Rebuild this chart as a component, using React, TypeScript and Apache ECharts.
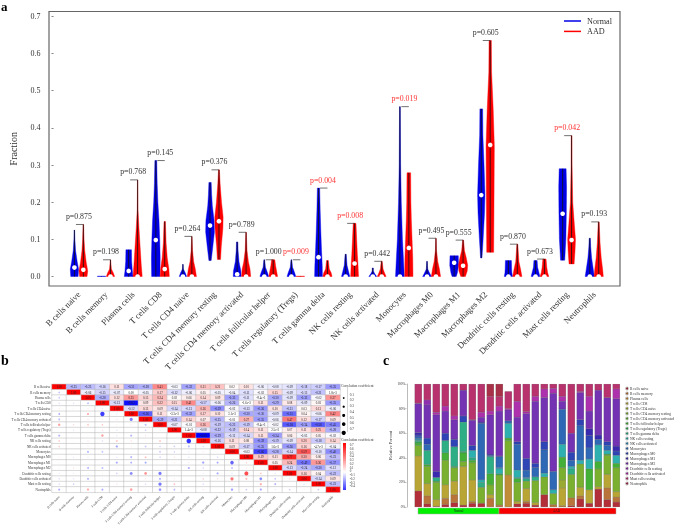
import React, { useEffect, useRef } from "react";
import * as echarts from "echarts";

const cellTypes = ["B cells naive","B cells memory","Plasma cells","T cells CD8","T cells CD4 naive","T cells CD4 memory resting","T cells CD4 memory activated","T cells follicular helper","T cells regulatory (Tregs)","T cells gamma delta","NK cells resting","NK cells activated","Monocytes","Macrophages M0","Macrophages M1","Macrophages M2","Dendritic cells resting","Dendritic cells activated","Mast cells resting","Neutrophils"];
const pValues = [0.875,0.198,0.768,0.145,0.264,0.376,0.789,1.0,0.009,0.004,0.008,0.442,0.019,0.495,0.555,0.605,0.87,0.673,0.042,0.193];
const yTicks = [0,0.1,0.2,0.3,0.4,0.5,0.6,0.7];

// violin outlines: [fraction, relative density]
const normalProfiles: number[][][] = [
  [[0,.8],[.02,.9],[.04,.6],[.07,.25],[.1,.1],[.125,.05]],
  [[0,.9],[.001,.9]],
  [[0,.95],[.015,.8],[.04,.65],[.072,.6]],
  [[0,.9],[.05,.95],[.1,.85],[.15,.7],[.2,.45],[.25,.3],[.312,.2]],
  [[0,.8],[.01,.5],[.02,.1],[.033,.03]],
  [[.043,.25],[.08,.6],[.12,.95],[.15,.9],[.19,.5],[.22,.35],[.253,.25]],
  [[0,.85],[.015,.8],[.04,.4],[.07,.2],[.093,.15]],
  [[0,.95],[.01,.7],[.025,.25],[.045,.08]],
  [[0,.95],[.01,.7],[.025,.25],[.045,.08]],
  [[0,.85],[.03,.8],[.07,.65],[.12,.5],[.18,.35],[.238,.25]],
  [[0,.9],[.015,.6],[.03,.3],[.06,.12]],
  [[0,.85],[.008,.4],[.015,.12],[.023,.12]],
  [[0,.95],[.04,.8],[.1,.55],[.2,.3],[.3,.15],[.457,.08]],
  [[0,.95],[.008,.6],[.02,.15],[.041,.05]],
  [[0,.45],[.01,.7],[.03,.95],[.056,.9]],
  [[.05,.15],[.1,.4],[.17,.7],[.22,.8],[.3,.6],[.38,.35],[.451,.3]],
  [[0,.9],[.01,.75],[.02,.7],[.043,.65]],
  [[0,.95],[.01,.75],[.025,.45],[.043,.35]],
  [[.044,.45],[.1,.7],[.17,.8],[.24,.85],[.29,.75]],
  [[0,1],[.02,.75],[.05,.4],[.08,.2],[.103,.12]],
];
const aadProfiles: number[][][] = [
  [[0,.8],[.015,.95],[.04,.6],[.07,.3],[.1,.15],[.14,.05]],
  [[0,.9],[.01,.6],[.02,.2],[.045,.03]],
  [[0,1],[.03,.8],[.08,.55],[.13,.3],[.18,.08],[.26,.03]],
  [[0,1],[.02,.9],[.05,.55],[.09,.3],[.148,.15]],
  [[0,1],[.02,.75],[.04,.4],[.07,.15],[.108,.03]],
  [[.046,.35],[.08,.5],[.13,.85],[.16,.9],[.2,.55],[.25,.25],[.287,.1]],
  [[0,1],[.02,.85],[.04,.5],[.07,.2],[.119,.05]],
  [[0,.95],[.01,.8],[.03,.5],[.045,.35]],
  [[0,.9],[.001,.9]],
  [[0,1],[.01,.8],[.02,.4],[.043,.2]],
  [[0,.85],[.03,.75],[.06,.6],[.1,.45],[.143,.3]],
  [[0,.95],[.01,.6],[.02,.3],[.041,.1]],
  [[0,.9],[.05,.85],[.1,.7],[.15,.55],[.2,.45],[.279,.4]],
  [[0,1],[.02,.75],[.04,.4],[.07,.12],[.103,.04]],
  [[0,.5],[.015,.9],[.03,1],[.05,.7],[.07,.3],[.098,.1]],
  [[.065,.75],[.15,.8],[.25,.85],[.35,.9],[.45,.65],[.55,.3],[.635,.25]],
  [[0,1],[.02,.7],[.04,.35],[.087,.1]],
  [[0,.95],[.01,.7],[.025,.5],[.047,.35]],
  [[.034,.55],[.07,.75],[.1,.85],[.14,.6],[.2,.25],[.3,.1],[.379,.08]],
  [[0,1],[.02,.85],[.05,.55],[.09,.3],[.147,.1]],
];
const normalMedians = [.024,null,.015,.098,0,.137,.006,0,0,.052,0,0,0,0,.037,.219,0,0,.169,0];
const aadMedians = [.018,0,0,.02,0,.149,0,0,null,0,.035,0,.077,0,.029,.354,0,0,.098,0];

// correlation matrix, upper triangle row by row
const corrRows: number[][] = [
  [1,-.25,-.23,-.16,.11,-.31,-.28,.41,-.03,-.32,.21,.21,.02,.10,-.06,-.08,-.09,-.18,-.17,-.35],
  [1,-.06,-.15,-.07,0,-.05,.17,-.12,-.06,.05,-.05,-.04,-.11,-.02,.15,-.09,-.13,-.21,.0018],
  [1,-.28,.12,.35,.15,.24,.02,.06,.14,.09,-.33,-.11,-.0094,-.30,-.09,-.33,-.02,.37],
  [1,-.13,-.83,.09,.22,.15,.41,-.17,-.06,-.26,-.0016,.11,-.29,.08,-.09,.03,-.35],
  [1,-.12,.13,.09,-.14,-.13,.26,-.39,-.019,-.13,-.36,.10,-.21,.03,.13,-.06],
  [1,-.56,.11,-.0033,-.32,.17,.10,.0031,-.30,-.30,-.09,-.51,.04,-.06,.42],
  [1,-.29,-.21,.14,.07,-.25,-.01,.27,-.35,-.06,.47,.12,-.17,.09],
  [1,-.07,-.01,.26,-.19,-.23,-.19,-.0094,-.02,-.58,-.34,-.58,-.45],
  [1,.0014,-.08,-.22,-.19,.14,.11,.0025,.07,.11,.25,-.28],
  [1,-.88,-.29,-.12,-.14,.11,-.34,.06,-.03,.05,-.02],
  [1,-.16,.11,.08,-.39,-.19,-.09,.20,-.18,.14],
  [1,.09,-.17,-.35,.0016,-.36,.16,-.0047,-.04],
  [1,-.03,-.66,-.28,-.14,.59,-.10,-.40],
  [1,.19,.11,.77,.30,.06,-.23],
  [1,.05,.24,-.49,.36,-.37],
  [1,-.13,-.24,-.30,-.12],
  [1,.16,.04,-.22],
  [1,-.14,.09],
  [1,-.23],
  [1],
];
const sizeLegend = [0.1,0.2,0.3,0.4,0.5,0.6,0.7];
const colorLegend = [0.7,0.6,0.5,0.4,0.3,0.2,0.1,0,-0.1,-0.2,-0.3,-0.4];

// panel c: composition of each sample, one list per sample, in cellTypes order
const samples: number[][] = [
  [13,0,0,28.5,0,8.5,0,2,1,1,.5,1,1.5,1.5,2,23.5,0,.5,15.5,0],
  [2.5,6.5,0,10,0,14,0,1.5,0,11.5,0,0,5,5,0,27,4,0,13,0],
  [.5,0,0,5.5,0,14,0,1,0,3,0,0,0,0,5,46,0,2,23,0],
  [2,5,0,11,0,20,0,6,0,10,0,0,0,6,0,18,0,4,18,0],
  [3.5,6.5,0,11,0,11,0,0,1,16,0,0,0,6,0,16,0,3,26,0],
  [1.5,0,0,31.5,0,4,0,7,1,24,0,0,0,5,0,21,0,0,5,0],
  [3,1.5,0,17.5,0,14,0,2,0,2,6,0,0,4,0,20.5,0,.5,29,0],
  [3,0,0,0,0,13,0,0,0,4,2,0,46,0,1,4,0,4,23,0],
  [0,7,0,3,0,8,0,9,0,14,0,0,1,0,1,32,0,3,12,10],
  [0,1.5,0,0,0,24.5,0,0,1,0,4,1,9,0,.5,36.5,0,4,8,10],
  [0,0,26,0,0,28,0,2,0,0,12,0,2,0,0,9,0,1,14,0],
  [2.5,0,0,2,0,15.5,0,3,0,1,6,0,21,2,0,20,0,13,14,0],
  [3,1.5,0,10.5,0,6,0,0,0,2,0,1,6,9.5,0,36.5,0,1.5,22.5,0],
  [1.5,0,0,2,0,18,0,0,0,3,0,0,7.5,3.5,0,50.5,0,4,10,0],
  [10,0,0,0,0,14.5,0,0,0,0,3,0,19,6.5,0,36,0,7,4,0],
  [0,2,0,0,0,9,0,0,0,0,3,0,15,0,0,63.5,0,4,3.5,0],
  [0,1,0,14.5,6.5,10,0,8.5,0,0,10.5,0,28.5,0,0,6.5,0,4,10,0],
  [1,6.5,0,0,0,19,0,0,0,4.5,2,0,5,6.5,0,15.5,0,0,40,0],
  [6.5,2.5,0,7,0,19,0,0,0,0,3,0,28,5,0,22,0,1,6,0],
  [3,0,0,11,0,0,0,17,0,0,8,0,9,10,5.5,14.5,0,12,10,0],
  [14.5,0,0,2,0,14.5,0,6,0,0,13.5,0,4.5,0,3.5,36.5,0,0,5,0],
  [6,9.5,0,11,0,15.5,0,1,0,0,3,0,4,3,0,36,0,0,11,0],
  [4,4,0,4.5,0,19.5,0,3.5,0,0,6.5,0,0,3.5,4,38.5,0,8,4,0],
];
const cellColors = ["#b22e38","#b8743a","#c08c38","#b8a535","#9aa932","#7aaf30","#5fb032","#45b038","#30ad55","#2fae85","#2fb0b0","#2e8fb5","#2f68b5","#2f45b5","#3a2ab0","#7433b2","#8e2eb0","#ad30ad","#b8336e","#a83048"];

const SERIF = '"Liberation Serif","Times New Roman",serif';
const TXT = "#333";

function corrColor(r: number) {
  const t = Math.min(1, Math.abs(r) / 0.88);
  const c = Math.round(255 * (1 - t));
  return r >= 0 ? `rgb(255,${c},${c})` : `rgb(${c},${c},255)`;
}
function fmtCorr(v: number) {
  if (v === 0) return "0.00";
  if (Math.abs(v) < 0.01) return v.toExponential(1);
  return v.toFixed(2);
}
function top(p: number[][]) { return p[p.length - 1][0]; }

const VIOLIN_HALF = 4.6;
function violinSeries(name: string, color: string, profiles: number[][][], medians: (number|null)[], shift: number) {
  return {
    type: "custom", name, xAxisIndex: 0, yAxisIndex: 0, clip: false,
    itemStyle: { color }, z: 3,
    data: cellTypes.map((_, i) => [i]),
    renderItem: (_p: any, api: any) => {
      const i = api.value(0);
      const prof = profiles[i];
      const cx = api.coord([i + shift, 0])[0];
      const left: number[][] = [], right: number[][] = [];
      prof.forEach(([v, w]) => {
        const y = api.coord([i, v])[1];
        left.push([cx - w * VIOLIN_HALF, y]);
        right.unshift([cx + w * VIOLIN_HALF, y]);
      });
      const y0 = api.coord([i, prof[0][0]])[1];
      const y1 = api.coord([i, top(prof)])[1];
      const children: any[] = [
        { type: "polygon", shape: { points: left.concat(right) }, style: { fill: color, stroke: color, lineWidth: 0.4 } },
        { type: "line", shape: { x1: cx, y1: y0, x2: cx, y2: y1 }, style: { stroke: "#111", lineWidth: 0.8 } },
      ];
      const m = medians[i];
      if (m != null) {
        const my = api.coord([i, m])[1];
        children.push({ type: "circle", shape: { cx, cy: my, r: 2.3 }, style: { fill: "#fff" } });
      }
      return { type: "group", children };
    },
  };
}

const SHIFT = 4.5 / 27.34;
const pSeries = {
  type: "custom", xAxisIndex: 0, yAxisIndex: 0, clip: false, z: 4, silent: true,
  itemStyle: { color: TXT },
  data: cellTypes.map((_, i) => [i]),
  renderItem: (_p: any, api: any) => {
    const i = api.value(0);
    const maxTop = Math.max(top(normalProfiles[i]), top(aadProfiles[i]));
    const [x1, y] = api.coord([i - SHIFT, maxTop]);
    const x2 = api.coord([i + SHIFT, maxTop])[0];
    const p = pValues[i];
    const sig = p < 0.05;
    return {
      type: "group",
      children: [
        { type: "line", shape: { x1: x1 + 1.5, y1: y, x2, y2: y }, style: { stroke: "#333", lineWidth: 0.7 } },
        { type: "text", x: (x1 + x2) / 2, y: y - 8, style: { text: "p=" + p.toFixed(3), fill: sig ? "#f33" : TXT, stroke: "none", lineWidth: 0, font: `7.8px ${SERIF}`, textAlign: "center", textVerticalAlign: "middle" } },
      ],
    };
  },
};

const upperCells: any[] = [], lowerCells: any[] = [], lowerDots: any[] = [];
corrRows.forEach((row, r) => row.forEach((v, k) => {
  const c = r + k;
  upperCells.push([c, r, v]);
  if (c !== r) {
    lowerCells.push([r, c, v]);
    lowerDots.push({ value: [r, c, v], itemStyle: { color: corrColor(v) } });
  }
}));

const cellBorder = { borderColor: "#b8b8b8", borderWidth: 0.5 };
const sampleLabels = samples.map((_, i) => "S" + (i + 1));

const barSeries = [
  {
    type: "bar", xAxisIndex: 2, yAxisIndex: 2, barWidth: 7.2, barGap: "-100%", z: 1, silent: true,
    itemStyle: { color: "#aaa", borderColor: "#aaa", borderWidth: 1.1 },
    data: samples.map((s) => s.reduce((a, b) => a + b, 0)),
  },
  ...cellTypes.map((name, k) => ({
    type: "bar", name, stack: "comp", xAxisIndex: 2, yAxisIndex: 2, barWidth: 7.2, barGap: "-100%", z: 2,
    itemStyle: { color: cellColors[k], borderColor: "rgba(0,0,0,0.22)", borderWidth: 0.3 },
    data: samples.map((s) => (s[k] === 0 ? null : s[k])),
  })),
];

const legendGraphics: any[] = [
  { type: "rect", shape: { x: 49, y: 11.5, width: 571, height: 274.5 }, style: { fill: "none", stroke: "#666", lineWidth: 1.2 } },
  { type: "text", x: 341, y: 386, style: { text: "Correlation coefficient", font: `3.6px ${SERIF}`, fill: TXT, textVerticalAlign: "middle" } },
  { type: "line", shape: { x1: 347.5, y1: 387, x2: 347.5, y2: 432 }, style: { stroke: "#999", lineWidth: 0.4 } },
  { type: "text", x: 341, y: 440.3, style: { text: "Correlation coefficient", font: `3.6px ${SERIF}`, fill: TXT, textVerticalAlign: "middle" } },
  {
    type: "rect", shape: { x: 343, y: 443, width: 3, height: 47 },
    style: { fill: new echarts.graphic.LinearGradient(0, 0, 0, 1, [
      { offset: 0, color: "#f00" }, { offset: 0.62, color: "#fff" }, { offset: 1, color: "#33f" },
    ]) },
  },
  { type: "text", x: 1, y: 6, style: { text: "a", font: `bold 13px ${SERIF}`, fill: "#000", textVerticalAlign: "middle" } },
  { type: "text", x: 1, y: 360, style: { text: "b", font: `bold 14px ${SERIF}`, fill: "#000", textVerticalAlign: "middle" } },
  { type: "text", x: 383, y: 360, style: { text: "c", font: `bold 14px ${SERIF}`, fill: "#000", textVerticalAlign: "middle" } },
  { type: "rect", shape: { x: 418, y: 508, width: 81, height: 6 }, style: { fill: "#00f000", stroke: "#aaa", lineWidth: 0.5 } },
  { type: "rect", shape: { x: 499, y: 508, width: 117, height: 6 }, style: { fill: "#f70000", stroke: "#aaa", lineWidth: 0.5 } },
  { type: "text", x: 458.5, y: 511, style: { text: "Normal", font: `3.2px ${SERIF}`, fill: "#222", textAlign: "center", textVerticalAlign: "middle" } },
  { type: "text", x: 556.5, y: 511, style: { text: "AAD", font: `3.2px ${SERIF}`, fill: "#222", textAlign: "center", textVerticalAlign: "middle" } },
];
sizeLegend.forEach((v, i) => {
  legendGraphics.push({ type: "text", x: 349.7, y: 394.7 + i * 5.7, style: { text: v.toFixed(1), font: `3.4px ${SERIF}`, fill: TXT, textVerticalAlign: "middle" } });
  if (i < 6) legendGraphics.push({ type: "circle", shape: { cx: 343.7, cy: 389.3 + i * 8.7, r: 0.5 + i * 0.33 }, style: { fill: "#000" } });
});
colorLegend.forEach((v, i) => {
  legendGraphics.push({ type: "text", x: 349.7, y: 445 + i * 3.73, style: { text: v === 0 ? "0" : v.toFixed(1), font: `3.2px ${SERIF}`, fill: TXT, textVerticalAlign: "middle" } });
});

const option: any = {
  animation: false,
  backgroundColor: "#fff",
  textStyle: { fontFamily: SERIF },
  grid: [
    { left: 49, top: 11.5, width: 571, height: 274.5 },
    { left: 52, top: 384.3, width: 288, height: 108 },
    { left: 413.8, top: 384, width: 207, height: 123 },
  ],
  xAxis: [
    {
      type: "value", gridIndex: 0, min: -0.936, max: 19.95,
      axisLine: { show: false, onZero: false }, axisTick: { show: false }, splitLine: { show: false },
      axisLabel: { customValues: cellTypes.map((_, i) => i), rotate: 45, margin: 7, fontSize: 8.7, color: TXT, fontFamily: SERIF, formatter: (v: number) => cellTypes[v] },
    },
    {
      type: "category", gridIndex: 1, data: cellTypes,
      axisLine: { show: false }, axisTick: { show: false },
      axisLabel: { rotate: 45, interval: 0, margin: 4, fontSize: 3.2, color: TXT, fontFamily: SERIF },
    },
    {
      type: "category", gridIndex: 2, data: sampleLabels,
      axisLine: { show: false }, axisTick: { show: false }, axisLabel: { show: false },
    },
  ],
  yAxis: [
    {
      type: "value", gridIndex: 0, min: -0.0255, max: 0.713,
      axisLine: { show: false, onZero: false }, splitLine: { show: false },
      axisTick: { show: true, length: 2, lineStyle: { color: "#666", width: 0.8 }, customValues: yTicks },
      axisLabel: { customValues: yTicks, margin: 13, fontSize: 8, color: TXT, fontFamily: SERIF, formatter: (v: number) => v.toFixed(1) },
      name: "Fraction", nameLocation: "middle", nameGap: 35.5, nameTextStyle: { fontSize: 10, color: TXT, fontFamily: SERIF },
    },
    {
      type: "category", gridIndex: 1, data: cellTypes, inverse: true,
      axisLine: { show: false }, axisTick: { show: false },
      axisLabel: { interval: 0, margin: 1.5, fontSize: 3.2, color: TXT, fontFamily: SERIF },
    },
    {
      type: "value", gridIndex: 2, min: 0, max: 100, interval: 20, offset: 7,
      splitLine: { show: false },
      axisLine: { show: true, lineStyle: { color: "#aaa", width: 0.8 } },
      axisTick: { show: true, length: 2, lineStyle: { color: "#aaa", width: 0.5 } },
      axisLabel: { margin: 1.5, fontSize: 3.4, color: TXT, fontFamily: SERIF, formatter: (v: number) => v + "%" },
      name: "Relative Percent", nameLocation: "middle", nameGap: 14, nameTextStyle: { fontSize: 4.4, color: TXT, fontFamily: SERIF },
    },
  ],
  legend: [
    {
      left: 564, top: 17, padding: 0, orient: "vertical", itemWidth: 17, itemHeight: 1.5, itemGap: 2.4, icon: "rect", selectedMode: false,
      data: ["Normal", "AAD"], textStyle: { fontSize: 8.2, color: TXT, fontFamily: SERIF, padding: [0, 0, 0, 1] },
    },
    {
      left: 625, top: 386.5, padding: 0, orient: "vertical", itemWidth: 2, itemHeight: 2, itemGap: 1.0, icon: "circle", selectedMode: false,
      data: cellTypes, textStyle: { fontSize: 3.6, lineHeight: 3.5, color: TXT, fontFamily: SERIF, padding: [0, 0, 0, -3] },
    },
  ],
  visualMap: [
    { show: false, type: "continuous", dimension: 2, min: -0.88, max: 0.88, seriesIndex: [3], inRange: { color: ["#0000ff", "#ffffff", "#ff0000"] } },
    { show: false, type: "continuous", dimension: 2, min: -1, max: 1, seriesIndex: [4], inRange: { color: ["#ffffff", "#ffffff"] } },
  ],
  graphic: { elements: legendGraphics },
  series: [
    violinSeries("Normal", "#0000e6", normalProfiles, normalMedians, -SHIFT),
    violinSeries("AAD", "#ff0000", aadProfiles, aadMedians, SHIFT),
    pSeries,
    {
      type: "heatmap", xAxisIndex: 1, yAxisIndex: 1, silent: true,
      itemStyle: cellBorder,
      data: upperCells,
      label: { show: true, fontSize: 3.1, color: "#222", fontFamily: SERIF, formatter: (p: any) => fmtCorr(p.value[2]) },
    },
    {
      type: "heatmap", xAxisIndex: 1, yAxisIndex: 1, silent: true,
      itemStyle: cellBorder,
      data: lowerCells,
    },
    {
      type: "scatter", xAxisIndex: 1, yAxisIndex: 1, silent: true, z: 4,
      symbolSize: (v: number[]) => 0.6 + 4.5 * Math.abs(v[2]),
      data: lowerDots,
    },
    ...barSeries,
  ],
};

export default function App() {
  const ref = useRef<HTMLDivElement>(null);
  useEffect(() => {
    document.body.style.margin = "0";
    const chart = echarts.init(ref.current!, null, { renderer: "svg" });
    chart.setOption(option);
    return () => chart.dispose();
  }, []);
  return <div ref={ref} style={{ position: "absolute", left: 0, top: 0, width: 676, height: 528, filter: "blur(0.4px)" }} />;
}
